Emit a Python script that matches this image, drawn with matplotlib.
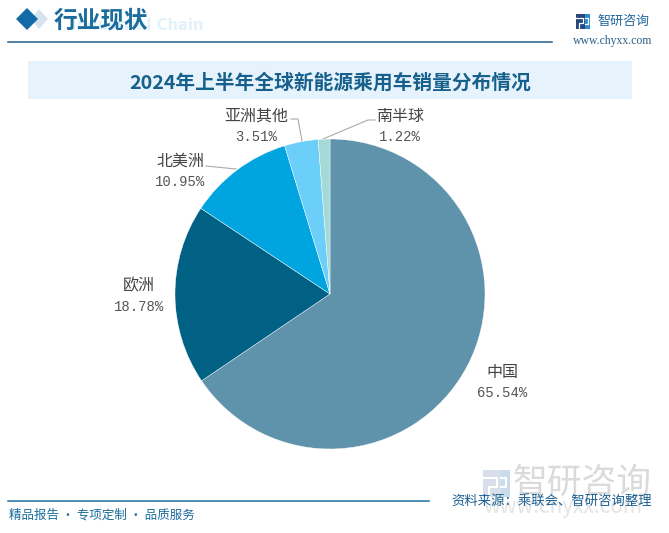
import matplotlib
matplotlib.use("Agg")
import matplotlib.pyplot as plt
from matplotlib.patches import Polygon, Rectangle

plt.rcParams['font.family'] = ['Noto Sans CJK SC', 'DejaVu Sans']

categories = ['中国', '欧洲', '北美洲', '亚洲其他', '南半球']
values = [65.54, 18.78, 10.95, 3.51, 1.22]
colors = ['#5F92AB', '#006185', '#00A5DF', '#6BCFF9', '#A3D9D6']
title = '2024年上半年全球新能源乘用车销量分布情况'

W, H = 669, 533
fig = plt.figure(figsize=(W / 100, H / 100), dpi=100, facecolor='white')
bg = fig.add_axes([0, 0, 1, 1])
bg.set_xlim(0, W)
bg.set_ylim(H, 0)
bg.axis('off')

# header
bg.add_patch(Polygon([[31, 19], [39, 9], [48, 19], [39, 29]], color='#D5E4EF', lw=0))
bg.add_patch(Polygon([[16, 19], [27, 8], [38, 19], [27, 30]], color='#126BA6', lw=0))
bg.text(71, 26, 'Industrial Chain', fontsize=10.6, fontweight='bold', color='#E3F1FB',
        family='DejaVu Sans', ha='left', va='center')
bg.text(54, 20, '行业现状', fontsize=17, fontweight='bold', color='#1A6C9C', ha='left', va='center')
bg.plot([8, 552], [41.5, 41.5], color='#1F5F88', lw=1.1)

# logo
bg.add_patch(Rectangle((576, 14), 9, 15, color='#27477F', lw=0))
bg.add_patch(Rectangle((585, 14), 5, 15, color='#2A8CCB', lw=0))
bg.plot([576, 583, 583, 579, 579], [18, 18, 23, 23, 29], color='white', lw=0.9)
bg.plot([585, 588, 588, 585], [18, 18, 24, 24], color='white', lw=0.9)
bg.text(598, 21, '智研咨询', fontsize=9.4, color='#2268A0', ha='left', va='center')
bg.text(573, 41, 'www.chyxx.com', fontsize=8.5, family='Liberation Serif', color='#2A5F88',
        ha='left', va='center')

# title band
bg.add_patch(Rectangle((28, 61), 604, 38, color='#E6F3FC', lw=0))
bg.text(330, 83, title, fontsize=14.2, fontweight='bold', color='#17608C',
        ha='center', va='center')

# pie
cx, cy, r = 330, 294, 155
pie_ax = fig.add_axes([(cx - r) / W, 1 - (cy + r) / H, 2 * r / W, 2 * r / H])
pie_ax.pie(values, colors=colors, startangle=90, counterclock=False, radius=1,
           wedgeprops=dict(edgecolor='white', linewidth=0.3))
pie_ax.set_xlim(-1, 1)
pie_ax.set_ylim(-1, 1)
pie_ax.patch.set_alpha(0)

# labels
label_xy = [(502, 382), (139, 296), (180, 171), (256, 126), (400, 126)]
for name, v, (x, y) in zip(categories, values, label_xy):
    bg.text(x, y - 10, name, fontsize=11.5, color='#444444', ha='center', va='center', zorder=5)
    bg.text(x, y + 11, f'{v:.2f}%', fontsize=10, family='Liberation Mono', color='#555555',
            ha='center', va='center', zorder=5)

# leaders
leader = [([206, 236], [166, 169]), ([291, 298, 302], [119, 119, 141]), ([323, 368, 375], [139, 120, 120])]
for xs, ys in leader:
    bg.plot(xs, ys, color='#AAAAAA', lw=0.8, zorder=6)

# footer
bg.add_patch(Rectangle((483, 470), 18, 27, color='#D9DFEA', lw=0))
bg.add_patch(Rectangle((501, 470), 9, 27, color='#C9DCEC', lw=0))
bg.plot([483, 497, 497, 489, 489], [478, 478, 487, 487, 497], color='white', lw=1.5)
bg.plot([501, 506, 506, 501], [478, 478, 487, 487], color='white', lw=1.5)
bg.text(513, 483, '智研咨询', fontsize=25, color='#DADADA', ha='left', va='center')
bg.text(483, 507, 'www.chyxx.com', fontsize=15, color='#E4E4E4', ha='left', va='center')
bg.plot([8, 429], [500.5, 500.5], color='#1F6FA0', lw=1.1)
bg.text(9, 515, '精品报告 · 专项定制 · 品质服务', fontsize=9, color='#1A6C9C', ha='left', va='center')
bg.text(652, 501, '资料来源：乘联会、智研咨询整理', fontsize=9.6, color='#1A5F90', ha='right', va='center')

fig.savefig('out.png', dpi=100)
